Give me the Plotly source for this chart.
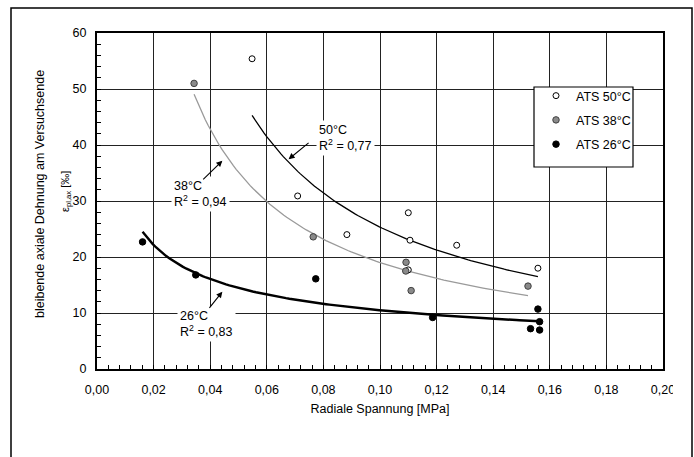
import numpy as np
import plotly.graph_objects as go

# Radial stress [MPa] and permanent axial strain at end of test [‰]
x_50 = [0.0548, 0.0709, 0.0883, 0.1106, 0.1100, 0.1100, 0.1271, 0.1558]
y_50 = [55.4, 30.9, 24.0, 23.0, 27.9, 17.7, 22.1, 18.0]

x_38 = [0.0343, 0.0764, 0.1092, 0.1091, 0.1110, 0.1523]
y_38 = [51.0, 23.6, 19.05, 17.5, 14.0, 14.8]

x_26 = [0.0161, 0.0349, 0.0773, 0.1186, 0.1558, 0.1564, 0.1532, 0.1564]
y_26 = [22.7, 16.8, 16.1, 9.2, 10.7, 8.45, 7.2, 6.96]

series_names = ["ATS 50°C", "ATS 38°C", "ATS 26°C"]
fit_labels = ["50°C<br>R<sup>2</sup> = 0,77",
              "38°C<br>R<sup>2</sup> = 0,94",
              "26°C<br>R<sup>2</sup> = 0,83"]

x_ticks = [0.00, 0.02, 0.04, 0.06, 0.08, 0.10, 0.12, 0.14, 0.16, 0.18, 0.20]
x_ticktext = ["0,00", "0,02", "0,04", "0,06", "0,08", "0,10", "0,12",
              "0,14", "0,16", "0,18", "0,20"]
y_ticks = [0, 10, 20, 30, 40, 50, 60]

FONT = "Liberation Sans, Arial, sans-serif"


def power_fit(xs, ys, n=120):
    """Least-squares power trendline y = a*x^b over the data range."""
    xs = np.asarray(xs, float)
    ys = np.asarray(ys, float)
    b, ln_a = np.polyfit(np.log(xs), np.log(ys), 1)
    xf = np.linspace(xs.min(), xs.max(), n)
    return xf, np.exp(ln_a) * xf ** b


def px_x(p):
    """pixel column -> paper x"""
    return (p - 97) / 566


def px_y(p):
    """pixel row -> paper y"""
    return (369 - p) / 336


fig = go.Figure()

# trendlines
for xs, ys, color, width in [(x_50, y_50, "#000000", 1.3),
                             (x_38, y_38, "#9a9a9a", 1.3),
                             (x_26, y_26, "#000000", 2.4)]:
    xf, yf = power_fit(xs, ys)
    fig.add_trace(go.Scatter(x=xf, y=yf, mode="lines", showlegend=False,
                             hoverinfo="skip",
                             line=dict(color=color, width=width)))

# measured points
marker_styles = [
    dict(color="white", size=6, line=dict(color="black", width=1)),
    dict(color="#8a8a8a", size=6.5, line=dict(color="#404040", width=1)),
    dict(color="black", size=6.5, line=dict(color="black", width=1)),
]
for i, (xs, ys) in enumerate([(x_50, y_50), (x_38, y_38), (x_26, y_26)]):
    fig.add_trace(go.Scatter(x=xs, y=ys, mode="markers",
                             name=series_names[i], legendgroup=str(i),
                             marker=marker_styles[i]))

# fit labels (white boxes over the grid)
label_pos = [(0.0774, 41.3), (0.0261, 31.3), (0.0283, 8.1)]
for (lx, ly), txt in zip(label_pos, fit_labels):
    fig.add_annotation(x=lx, y=ly, xref="x", yref="y", text=txt,
                       showarrow=False, xanchor="left", yanchor="middle",
                       align="left", bgcolor="white", borderpad=2,
                       font=dict(family=FONT, size=12.5, color="black"))

# pointer arrows from the labels to their trendlines
arrows = [((0.0753, 40.6), (0.0677, 37.45)),
          ((0.0370, 33.6), (0.0443, 37.2)),
          ((0.0393, 10.66), (0.0443, 13.8))]
for tail, head in arrows:
    fig.add_annotation(x=head[0], y=head[1], ax=tail[0], ay=tail[1],
                       xref="x", yref="y", axref="x", ayref="y", text="",
                       showarrow=True, arrowhead=2, arrowsize=1.1,
                       arrowwidth=1.1, arrowcolor="black")

# y-axis title, two lines
fig.add_annotation(x=px_x(40), y=px_y(194), xref="paper", yref="paper",
                   text="bleibende axiale Dehnung am Versuchsende",
                   textangle=-90, showarrow=False,
                   xanchor="center", yanchor="middle",
                   font=dict(family=FONT, size=12.5, color="black"))
fig.add_annotation(x=px_x(66), y=px_y(192), xref="paper", yref="paper",
                   text="ε<sub>pl,ax</sub> [‰]",
                   textangle=-90, showarrow=False,
                   xanchor="center", yanchor="middle",
                   font=dict(family=FONT, size=11, color="black"))

# outer frame around the chart
fig.add_shape(type="rect", xref="paper", yref="paper",
              x0=px_x(11), x1=px_x(692), y0=px_y(490), y1=px_y(8),
              line=dict(color="black", width=1.5), layer="below")
# legend box
fig.add_shape(type="rect", xref="paper", yref="paper",
              x0=px_x(534), x1=px_x(633), y0=px_y(167), y1=px_y(87),
              fillcolor="white", line=dict(color="black", width=1.2),
              layer="above")
# last tick label is clipped at the chart edge
fig.add_shape(type="rect", xref="paper", yref="paper",
              x0=px_x(673), x1=px_x(690), y0=px_y(402), y1=px_y(378),
              fillcolor="white", line=dict(width=0), layer="above")

axis_common = dict(showline=True, linecolor="black", linewidth=2,
                   mirror=True, showgrid=True, gridcolor="#222222",
                   gridwidth=1, zeroline=False, ticks="inside",
                   ticklen=4, tickcolor="black",
                   tickfont=dict(family=FONT, size=12.5, color="black"))

fig.update_xaxes(range=[0, 0.2], tickvals=x_ticks, ticktext=x_ticktext,
                 minor=dict(dtick=0.004, ticks="inside", ticklen=4,
                            tickcolor="black", showgrid=False),
                 ticklabelstandoff=8,
                 title=dict(text="Radiale Spannung [MPa]", standoff=8,
                            font=dict(family=FONT, size=12.5, color="black")),
                 **axis_common)
fig.update_yaxes(range=[0, 60], tickvals=y_ticks,
                 minor=dict(dtick=2, ticks="inside", ticklen=4,
                            tickcolor="black", showgrid=False),
                 ticklabelstandoff=6,
                 **axis_common)

fig.update_layout(
    width=694, height=457,
    margin=dict(l=97, r=31, t=33, b=88),
    paper_bgcolor="white", plot_bgcolor="white",
    font=dict(family=FONT, size=12.5, color="black"),
    showlegend=True,
    legend=dict(x=px_x(536), y=px_y(81), xanchor="left", yanchor="top",
                bgcolor="rgba(0,0,0,0)", borderwidth=0,
                tracegroupgap=5, itemwidth=30,
                font=dict(family=FONT, size=12.5, color="black")),
)

fig.write_html("out.html")
